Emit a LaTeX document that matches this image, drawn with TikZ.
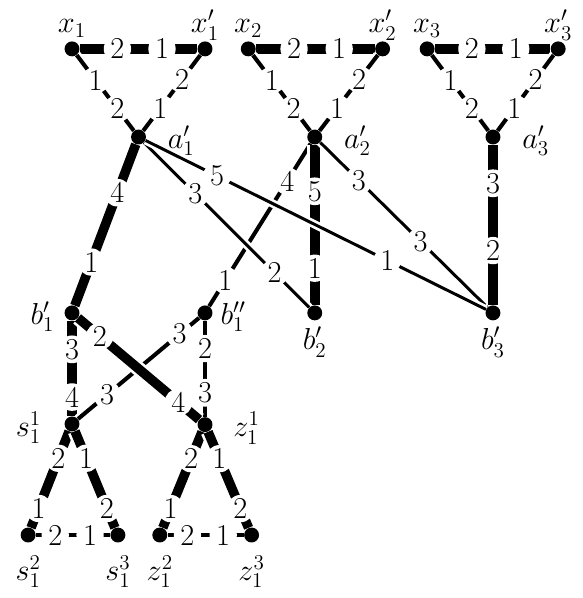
\documentclass[tikz,border=0pt]{standalone}
\usepackage{amsmath,amssymb}
\usepackage{tikz}

\begin{document}
\begin{tikzpicture}[x=1.33cm, y=1.33cm,
    dot/.style={circle, fill, inner sep=0pt, minimum size=8.5pt},
    num/.style={circle, fill=white, inner sep=0.6pt, font=\LARGE},
    thk/.style={line width=5.4pt, preaction={draw=white, line width=8.4pt}},
    med/.style={line width=2.3pt, preaction={draw=white, line width=5.3pt}},
    thn/.style={line width=1.7pt, preaction={draw=white, line width=4.7pt}},
    every label/.style={font=\LARGE, text depth=0pt, inner sep=2pt}]
    \useasboundingbox (-1.083,-0.947) rectangle (7.669,8.045);
    \node[dot, label={[label distance=2.5pt]above:$x_1$}] at(0,7.31)(x1){};
    \node[dot, label={[label distance=2.5pt]above:$x'_1$}] at(2,7.31)(x1p){};
    \node[dot, label={[label distance=10pt]right:$a'_1$}] at(1,5.985)(a1p){};
    \node[dot, label={[label distance=2.5pt]above:$x_2$}] at(2.65,7.31)(x2){};
    \node[dot, label={[label distance=2.5pt]above:$x'_2$}] at(4.67,7.31)(x2p){};
    \node[dot, label={[label distance=10pt]right:$a'_2$}] at(3.65,5.985)(a2p){};
    \node[dot, label={[label distance=2.5pt]above:$x_3$}] at(5.34,7.31)(x3){};
    \node[dot, label={[label distance=2.5pt]above:$x'_3$}] at(7.31,7.31)(x3p){};
    \node[dot, label={[label distance=10pt]right:$a'_3$}] at(6.33,5.985)(a3p){};
    \node[dot, label={[label distance=3.4pt]left:$b'_1$}] at(0,3.34)(b1p){};
    \node[dot, label={[label distance=2.2pt]right:$b''_1$}] at(2,3.34)(b1pp){};
    \node[dot, label={[label distance=1.5pt]below:$b'_2$}] at(3.65,3.34)(b2p){};
    \node[dot, label={[label distance=1.5pt]below:$b'_3$}] at(6.33,3.34)(b3p){};
    \node[dot, label={[label distance=11pt]left:$s^1_1$}] at(0,1.67)(s11){};
    \node[dot, label={[label distance=9.5pt]right:$z^1_1$}] at(2,1.66)(z11){};
    \node[dot, label={[label distance=5pt]below:$s^2_1$}] at(-0.66,0)(s12){};
    \node[dot, label={[label distance=5pt]below:$s^3_1$}] at(0.69,0)(s13){};
    \node[dot, label={[label distance=5pt]below:$z^2_1$}] at(1.32,0)(z12){};
    \node[dot, label={[label distance=5pt]below:$z^3_1$}] at(2.7,0)(z13){};
    \draw[thk] (x1) -- node[num, pos=0.32]{2} node[num, pos=0.70]{1} (x1p);
    \draw[med] (x1) -- node[num, pos=0.33]{1} node[num, pos=0.71]{2} (a1p);
    \draw[med] (x1p) -- node[num, pos=0.32]{2} node[num, pos=0.70]{1} (a1p);
    \draw[thk] (x2) -- node[num, pos=0.32]{2} node[num, pos=0.70]{1} (x2p);
    \draw[med] (x2) -- node[num, pos=0.33]{1} node[num, pos=0.71]{2} (a2p);
    \draw[med] (x2p) -- node[num, pos=0.32]{2} node[num, pos=0.70]{1} (a2p);
    \draw[thk] (x3) -- node[num, pos=0.32]{2} node[num, pos=0.70]{1} (x3p);
    \draw[med] (x3) -- node[num, pos=0.33]{1} node[num, pos=0.71]{2} (a3p);
    \draw[med] (x3p) -- node[num, pos=0.32]{2} node[num, pos=0.70]{1} (a3p);
    \draw[thk] (a1p) -- node[num, pos=0.30]{4} node[num, pos=0.73]{1} (b1p);
    \draw[med] (a2p) -- node[num, pos=0.23]{4} node[num, pos=0.84]{1} (b1pp);
    \draw[thk] (a2p) -- node[num, pos=0.29]{5} node[num, pos=0.77]{1} (b2p);
    \draw[thn] (a1p) -- node[num, pos=0.31]{3} node[num, pos=0.79]{2} (b2p);
    \draw[thn] (a2p) -- node[num, pos=0.23]{3} node[num, pos=0.60]{3} (b3p);
    \draw[thn] (a1p) -- node[num, pos=0.21]{5} node[num, pos=0.71]{1} (b3p);
    \draw[thk] (a3p) -- node[num, pos=0.24]{3} node[num, pos=0.66]{2} (b3p);
    \draw[thk] (b1p) -- node[num, pos=0.30]{3} node[num, pos=0.80]{4} (s11);
    \draw[med] (b1pp) -- node[num, pos=0.29]{2} node[num, pos=0.75]{3} (z11);
    \draw[med] (b1pp) -- node[num, pos=0.16]{3} node[num, pos=0.76]{3} (s11);
    \draw[thk] (b1p) -- node[num, pos=0.18]{2} node[num, pos=0.83]{4} (z11);
    \draw[thk] (s11) -- node[num, pos=0.28]{2} node[num, pos=0.80]{1} (s12);
    \draw[thk] (s11) -- node[num, pos=0.28]{1} node[num, pos=0.80]{2} (s13);
    \draw[med] (s12) -- node[num, pos=0.26]{2} node[num, pos=0.73]{1} (s13);
    \draw[thk] (z11) -- node[num, pos=0.28]{2} node[num, pos=0.80]{1} (z12);
    \draw[thk] (z11) -- node[num, pos=0.28]{1} node[num, pos=0.80]{2} (z13);
    \draw[med] (z12) -- node[num, pos=0.26]{2} node[num, pos=0.73]{1} (z13);
\end{tikzpicture}
\end{document}
